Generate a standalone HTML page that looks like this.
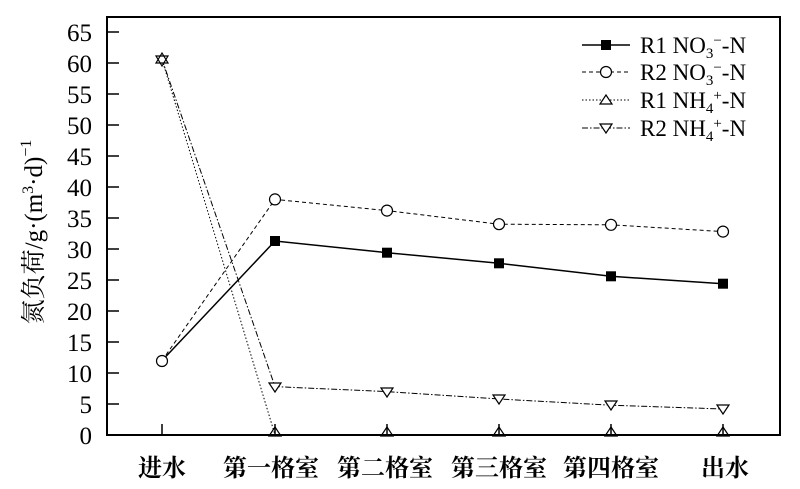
<!DOCTYPE html>
<html><head><meta charset="utf-8"><style>body{margin:0;background:#fff}svg{display:block}</style></head><body>
<svg width="800" height="489" xmlns="http://www.w3.org/2000/svg" font-family="Liberation Serif, serif">
<rect x="107" y="17" width="673" height="418" fill="none" stroke="#000" stroke-width="2"/>
<g stroke="#000" stroke-width="1.5">
<line x1="107" y1="435" x2="119" y2="435"/><line x1="107" y1="404" x2="119" y2="404"/><line x1="107" y1="373" x2="119" y2="373"/><line x1="107" y1="342" x2="119" y2="342"/><line x1="107" y1="311" x2="119" y2="311"/><line x1="107" y1="280" x2="119" y2="280"/><line x1="107" y1="249" x2="119" y2="249"/><line x1="107" y1="218" x2="119" y2="218"/><line x1="107" y1="187" x2="119" y2="187"/><line x1="107" y1="156" x2="119" y2="156"/><line x1="107" y1="125" x2="119" y2="125"/><line x1="107" y1="94" x2="119" y2="94"/><line x1="107" y1="63" x2="119" y2="63"/><line x1="107" y1="32" x2="119" y2="32"/>
<line x1="162" y1="435" x2="162" y2="424"/><line x1="275" y1="435" x2="275" y2="424"/><line x1="387" y1="435" x2="387" y2="424"/><line x1="499" y1="435" x2="499" y2="424"/><line x1="611" y1="435" x2="611" y2="424"/><line x1="723" y1="435" x2="723" y2="424"/>
</g>
<g font-size="25" text-anchor="end">
<text x="92" y="444">0</text><text x="92" y="413">5</text><text x="92" y="382">10</text><text x="92" y="351">15</text><text x="92" y="320">20</text><text x="92" y="289">25</text><text x="92" y="258">30</text><text x="92" y="227">35</text><text x="92" y="196">40</text><text x="92" y="165">45</text><text x="92" y="134">50</text><text x="92" y="103">55</text><text x="92" y="72">60</text><text x="92" y="41">65</text>
</g>
<g font-family="Liberation Serif, Noto Serif CJK SC, serif" font-size="24" font-weight="bold" text-anchor="middle">
<text x="162" y="476">进水</text><text x="271" y="476">第一格室</text><text x="385" y="476">第二格室</text><text x="499" y="476">第三格室</text><text x="611" y="476">第四格室</text><text x="725" y="476">出水</text>
</g>
<text transform="translate(42,232) rotate(-90)" text-anchor="middle" font-family="Liberation Serif, Noto Serif CJK SC, serif" font-size="25">氮负荷/g·(m<tspan dy="-9" font-size="16">3</tspan><tspan dy="9">·d)</tspan><tspan dy="-11" font-size="16">−1</tspan></text>
<polyline fill="none" stroke="#000" stroke-width="1.5" points="162,360.6 275,241 387,252.7 499,263.3 611,276.3 723,283.7"/>
<polyline fill="none" stroke="#000" stroke-width="1" stroke-dasharray="4,3" points="162,360.6 275,199.4 387,210.6 499,224.2 611,224.8 723,231.6"/>
<polyline fill="none" stroke="#000" stroke-width="1" stroke-dasharray="1.5,2" points="162,59.3 275,435 387,435"/>
<polyline fill="none" stroke="#000" stroke-width="1" stroke-dasharray="6,2,1.5,2" points="162,59.3 275,386.6 387,391.6 499,399 611,405.2 723,409"/>
<g fill="#000"><rect x="270" y="236" width="10" height="10"/><rect x="382" y="247.7" width="10" height="10"/><rect x="494" y="258.3" width="10" height="10"/><rect x="606" y="271.3" width="10" height="10"/><rect x="718" y="278.7" width="10" height="10"/></g>
<g fill="#fff" stroke="#000" stroke-width="1.2">
<circle cx="162" cy="361" r="5.5"/><circle cx="275" cy="199.4" r="5.5"/><circle cx="387" cy="210.6" r="5.5"/><circle cx="499" cy="224.2" r="5.5"/><circle cx="611" cy="224.8" r="5.5"/><circle cx="723" cy="231.6" r="5.5"/>
<polygon points="162,53 168,63 156,63"/><polygon points="162,66 168,56 156,56" fill="none"/>
<polygon points="275,427 281,436 269,436" fill="none"/><polygon points="387,427 393,436 381,436" fill="none"/><polygon points="499,427 505,436 493,436" fill="none"/><polygon points="611,427 617,436 605,436" fill="none"/><polygon points="723,427 729,436 717,436" fill="none"/>
<polygon points="275,392 281,383 269,383"/><polygon points="387,397 393,388 381,388"/><polygon points="499,404 505,395 493,395"/><polygon points="611,410 617,401 605,401"/><polygon points="723,414 729,405 717,405"/>
</g>
<g stroke="#000">
<line x1="582" y1="45" x2="630" y2="45" stroke-width="1.5"/>
<line x1="582" y1="72" x2="630" y2="72" stroke-dasharray="4,3"/>
<line x1="582" y1="100" x2="630" y2="100" stroke-dasharray="1.5,2"/>
<line x1="582" y1="128" x2="630" y2="128" stroke-dasharray="6,2,1.5,2"/>
</g>
<rect x="601" y="40" width="10" height="10" fill="#000"/>
<g fill="#fff" stroke="#000" stroke-width="1.2">
<circle cx="606" cy="72" r="5.5"/>
<polygon points="606,95 612,104 600,104"/>
<polygon points="606,133 612,124 600,124"/>
</g>
<g font-size="23">
<text x="640" y="53">R1 NO<tspan dy="5" font-size="15">3</tspan><tspan dy="-13" font-size="15">−</tspan><tspan dy="8">-N</tspan></text>
<text x="640" y="80">R2 NO<tspan dy="5" font-size="15">3</tspan><tspan dy="-13" font-size="15">−</tspan><tspan dy="8">-N</tspan></text>
<text x="640" y="108">R1 NH<tspan dy="5" font-size="15">4</tspan><tspan dy="-13" font-size="15">+</tspan><tspan dy="8">-N</tspan></text>
<text x="640" y="136">R2 NH<tspan dy="5" font-size="15">4</tspan><tspan dy="-13" font-size="15">+</tspan><tspan dy="8">-N</tspan></text>
</g>
</svg>
</body></html>
